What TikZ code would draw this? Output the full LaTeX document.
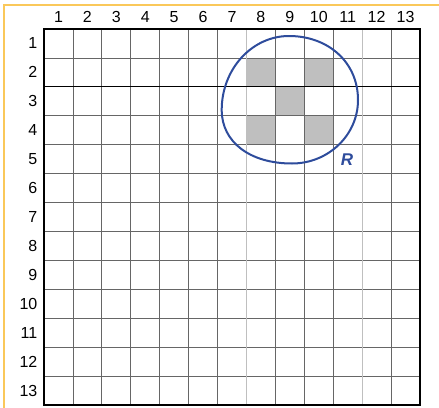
\documentclass[tikz,border=0pt]{standalone}
\usepackage{fontspec}
\setmainfont{Liberation Sans}
\begin{document}
\begin{tikzpicture}[x=1pt,y=-1pt,
  lbl/.style={font=\fontsize{16}{18}\selectfont,inner sep=0pt},
  gridline/.style={draw=black!60,line width=0.7pt},
  lightline/.style={draw=black!25,line width=1.1pt},
  cellfill/.style={fill=black!25}]
\useasboundingbox (0,0) rectangle (439,407);
\begin{scope}
\clip (0,0) rectangle (439,407);
\draw[draw={rgb,255:red,250;green,200;blue,90},line width=1.2pt] (4,5) rectangle (450,420);
\end{scope}
\def\cs{28.923}
% shaded cells
\foreach \r/\c in {2/8,2/10,3/9,4/8,4/10}
  \fill[cellfill] ({44+(\c-1)*\cs},{29+(\r-1)*\cs}) rectangle ++(\cs,\cs);
% grid lines
\foreach \i in {1,...,12}{
  \draw[gridline] ({44+\i*\cs},29) -- ({44+\i*\cs},405);
  \draw[gridline] (44,{29+\i*\cs}) -- (420,{29+\i*\cs});
}
\draw[lightline] ({44+7*\cs},29) -- ({44+7*\cs},405);
\draw[lightline] ({44+11*\cs},29) -- ({44+11*\cs},405);
\draw[black,line width=1pt] (44,{29+2*\cs}) -- (420,{29+2*\cs});
\draw[black,line width=1.5pt] (44,29) rectangle (420,405);
% labels
\foreach \i in {1,...,13}{
  \node[lbl,anchor=base] (c\i) at ({44+(\i-0.5)*\cs},22) {\i};
  \node[lbl,anchor=east] (r\i) at (37.5,{29+(\i-0.5)*\cs}) {\i};
}
% region R
\definecolor{rblue}{RGB}{46,76,156}
\draw[rblue,line width=2pt] (289,36)
  .. controls (328,36) and (358,62) .. (358,100)
  .. controls (358,135) and (328.4,163.5) .. (292,163.5)
  .. controls (249.8,163.5) and (221.7,142) .. (221.7,110)
  .. controls (221.7,69) and (252,36) .. (289,36) -- cycle;
\node[font=\bfseries\itshape\fontsize{17}{19}\selectfont,text=rblue,inner sep=0pt] (R) at (347,160) {R};
\end{tikzpicture}
\end{document}
